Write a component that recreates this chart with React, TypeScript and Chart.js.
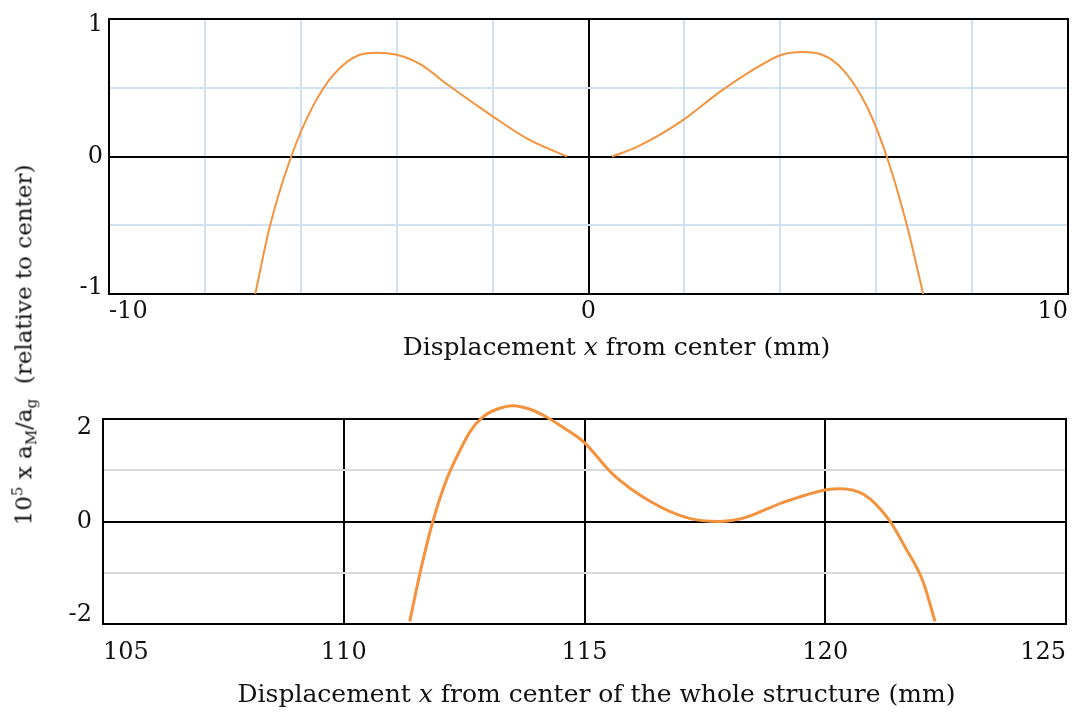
import React, { useEffect, useRef } from 'react';
import { Chart, registerables } from 'chart.js';

Chart.register(...registerables);

const SERIF = '"DejaVu Serif", "Liberation Serif", serif';
const CURVE_COLOR = '#f5923e';
const GRID_BLUE = '#d2e1f1';
const GRID_GRAY = '#d9d9d9';
const TEXT = '#111111';

// ---------- Top panel: relative to center ----------
const topX = [-6.95, -6.64, -6.2, -5.77, -5.33, -4.77, -4.41, -4.0, -3.5, -2.95, -1.99, -1.28, -0.45, 0,
  0.49, 1.01, 1.91, 2.74, 3.43, 4.03, 4.45, 4.83, 5.31, 5.81, 6.22, 6.64, 6.98];
const topY = [-1.0, -0.5, 0, 0.35, 0.59, 0.74, 0.755, 0.74, 0.67, 0.525, 0.29, 0.13, 0.0, null,
  0.0, 0.07, 0.25, 0.47, 0.63, 0.74, 0.76, 0.745, 0.63, 0.36, 0.0, -0.5, -1.0];
const topXTickLabels = [-10, 0, 10];
const topYTickLabels = [-1, 0, 1];

// ---------- Bottom panel: whole structure ----------
const bottomX = [111.37, 111.6, 111.85, 112.14, 112.41, 112.62, 112.89, 113.18, 113.51, 113.87,
  114.21, 114.55, 114.91, 115.04, 115.58, 116.37, 117.16, 117.8, 118.3, 119.09, 120.02, 120.31, 120.81,
  121.31, 121.67, 122.03, 122.28];
const bottomY = [-1.95, -0.94, 0, 0.83, 1.38, 1.75, 2.04, 2.19, 2.26, 2.19,
  2.04, 1.84, 1.61, 1.5, 0.93, 0.39, 0.065, 0, 0.065, 0.36, 0.62, 0.64, 0.52,
  0.05, -0.52, -1.17, -1.95];
const bottomXTickLabels = [105, 110, 115, 120, 125];
const bottomYTickLabels = [-2, 0, 2];

const topTitle = [
  { text: 'Displacement ', italic: false },
  { text: 'x', italic: true },
  { text: ' from center (mm)', italic: false },
];
const bottomTitle = [
  { text: 'Displacement ', italic: false },
  { text: 'x', italic: true },
  { text: ' from center of the whole structure (mm)', italic: false },
];

type Seg = { text: string; italic: boolean };

function panelPlugin(id: string, segments: Seg[], dx: number, dy: number, size: number) {
  return {
    id,
    beforeDatasetsDraw(chart: any) {
      const { ctx, chartArea: a } = chart;
      ctx.save();
      ctx.strokeStyle = '#000';
      ctx.lineWidth = 2;
      ctx.strokeRect(a.left, a.top, a.right - a.left, a.bottom - a.top);
      ctx.restore();
    },
    afterDraw(chart: any) {
      const { ctx, chartArea: a } = chart;
      ctx.save();
      ctx.fillStyle = TEXT;
      ctx.textBaseline = 'alphabetic';
      ctx.textAlign = 'left';
      const fonts = segments.map((s) => `${s.italic ? 'italic ' : ''}${size}px ${SERIF}`);
      let total = 0;
      const widths = segments.map((s, i) => {
        ctx.font = fonts[i];
        const w = ctx.measureText(s.text).width;
        total += w;
        return w;
      });
      let x = (a.left + a.right) / 2 + dx - total / 2;
      segments.forEach((s, i) => {
        ctx.font = fonts[i];
        ctx.fillText(s.text, x, a.bottom + dy);
        x += widths[i];
      });
      ctx.restore();
    },
  };
}

function makeYLabel(labels: number[], max: number, min: number) {
  return (value: number) => {
    if (!labels.includes(value)) return '';
    const s = String(value);
    if (value === max) return ['', s];
    if (value === min) return [s, ''];
    return s;
  };
}

function makeXLabel(labels: number[]) {
  return (value: number) => (labels.includes(value) ? String(value) : '');
}

function TopChart() {
  const ref = useRef<HTMLCanvasElement | null>(null);
  useEffect(() => {
    if (!ref.current) return;
    const chart = new Chart(ref.current, {
      type: 'line',
      data: {
        datasets: [
          {
            data: topX.map((x, i) => ({ x, y: topY[i] })) as any,
            borderColor: CURVE_COLOR,
            borderWidth: 2,
            pointRadius: 0,
            cubicInterpolationMode: 'monotone',
            spanGaps: false,
            clip: false as any,
          },
        ],
      },
      options: {
        animation: false,
        responsive: false,
        devicePixelRatio: 1,
        layout: { padding: { left: 0, right: 12, top: 19, bottom: 0 } },
        plugins: { legend: { display: false }, tooltip: { enabled: false } },
        scales: {
          x: {
            type: 'linear',
            min: -10,
            max: 10,
            afterFit: (s: any) => { s.height = 76; },
            border: { display: false },
            grid: {
              drawTicks: false,
              color: (c: any) => (c.tick && c.tick.value === 0 ? '#000' : GRID_BLUE),
              lineWidth: 2,
            },
            ticks: {
              stepSize: 2,
              autoSkip: false,
              maxRotation: 0,
              align: 'inner',
              padding: 3,
              color: TEXT,
              font: { family: SERIF, size: 24 },
              callback: makeXLabel(topXTickLabels) as any,
            },
          },
          y: {
            type: 'linear',
            min: -1,
            max: 1,
            afterFit: (s: any) => { s.width = 109; },
            border: { display: false },
            grid: {
              drawTicks: false,
              color: (c: any) => (c.tick && c.tick.value === 0 ? '#000' : GRID_BLUE),
              lineWidth: 2,
            },
            ticks: {
              stepSize: 0.5,
              autoSkip: false,
              padding: 6,
              color: TEXT,
              font: { family: SERIF, size: 24, lineHeight: '12px' },
              callback: makeYLabel(topYTickLabels, 1, -1) as any,
            },
          },
        },
      } as any,
      plugins: [panelPlugin('topPanel', topTitle, 28, 61, 25)],
    });
    return () => chart.destroy();
  }, []);
  return <canvas ref={ref} width={1080} height={370} style={{ position: 'absolute', left: 0, top: 0, width: 1080, height: 370 }} />;
}

function BottomChart() {
  const ref = useRef<HTMLCanvasElement | null>(null);
  useEffect(() => {
    if (!ref.current) return;
    const chart = new Chart(ref.current, {
      type: 'line',
      data: {
        datasets: [
          {
            data: bottomX.map((x, i) => ({ x, y: bottomY[i] })) as any,
            borderColor: CURVE_COLOR,
            borderWidth: 3,
            pointRadius: 0,
            cubicInterpolationMode: 'monotone',
            clip: false as any,
          },
        ],
      },
      options: {
        animation: false,
        responsive: false,
        devicePixelRatio: 1,
        layout: { padding: { left: 0, right: 14, top: 49, bottom: 0 } },
        plugins: { legend: { display: false }, tooltip: { enabled: false } },
        scales: {
          x: {
            type: 'linear',
            min: 105,
            max: 125,
            afterFit: (s: any) => { s.height = 88; },
            border: { display: false },
            grid: { drawTicks: false, color: '#000', lineWidth: 2 },
            ticks: {
              stepSize: 5,
              autoSkip: false,
              maxRotation: 0,
              align: 'inner',
              padding: 14,
              color: TEXT,
              font: { family: SERIF, size: 24 },
              callback: makeXLabel(bottomXTickLabels) as any,
            },
          },
          y: {
            type: 'linear',
            min: -2,
            max: 2,
            afterFit: (s: any) => { s.width = 103; },
            border: { display: false },
            grid: {
              drawTicks: false,
              color: (c: any) => (c.tick && c.tick.value === 0 ? '#000' : GRID_GRAY),
              lineWidth: 2,
            },
            ticks: {
              stepSize: 1,
              autoSkip: false,
              padding: 11,
              color: TEXT,
              font: { family: SERIF, size: 24, lineHeight: '18px' },
              callback: makeYLabel(bottomYTickLabels, 2, -2) as any,
            },
          },
        },
      } as any,
      plugins: [panelPlugin('bottomPanel', bottomTitle, 12, 78, 25)],
    });
    return () => chart.destroy();
  }, []);
  return <canvas ref={ref} width={1080} height={342} style={{ position: 'absolute', left: 0, top: 370, width: 1080, height: 342 }} />;
}

export default function App() {
  const small = { fontSize: 15 };
  return (
    <div style={{ position: 'absolute', left: 0, top: 0, width: 1080, height: 712, background: '#fff', overflow: 'hidden' }}>
      <TopChart />
      <BottomChart />
      <div
        style={{
          position: 'absolute',
          left: 25,
          top: 345,
          transform: 'translate(-50%, -50%) rotate(-90deg)',
          whiteSpace: 'nowrap',
          fontFamily: SERIF,
          fontSize: 23,
          lineHeight: 1,
          color: TEXT,
        }}
      >
        10<sup style={small}>5</sup> x a<sub style={small}>M</sub>/a<sub style={small}>g</sub>
        {'\u00a0\u00a0'}(relative to center)
      </div>
    </div>
  );
}
